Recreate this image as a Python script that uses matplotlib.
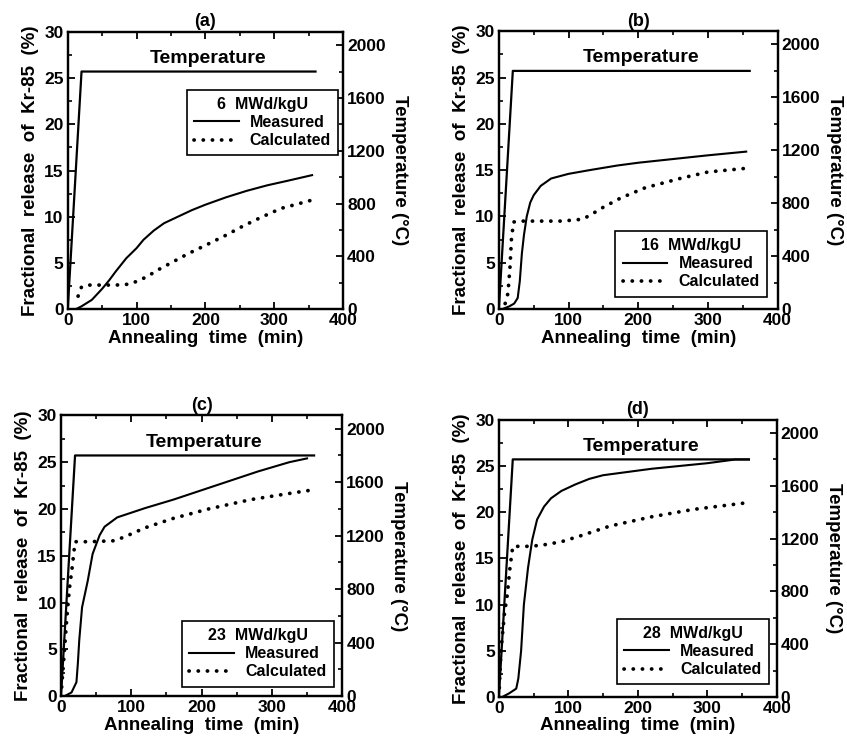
import matplotlib
matplotlib.use("Agg")
import matplotlib.pyplot as plt
from matplotlib.ticker import MultipleLocator

plt.rcParams['font.family'] = ['Liberation Sans', 'DejaVu Sans']
plt.rcParams['font.weight'] = 'bold'

# ---- data ----
temp_t = [0, 20, 360]
temp_v = [0, 1800, 1800]

panels = ['(a)', '(b)', '(c)', '(d)']
burnups = ['6  MWd/kgU', '16  MWd/kgU', '23  MWd/kgU', '28  MWd/kgU']

meas_t_a = [12, 20, 35, 50, 60, 70, 85, 100, 110, 125, 140, 160, 180, 200, 230, 260, 290, 320, 355]
meas_v_a = [0, 0.3, 1.0, 2.2, 3.1, 4.1, 5.5, 6.6, 7.5, 8.5, 9.3, 10.0, 10.7, 11.3, 12.1, 12.8, 13.4, 13.9, 14.5]
calc_t_a = [15, 20, 30, 50, 70, 90, 100, 115, 130, 150, 175, 200, 230, 255, 280, 310, 340, 355]
calc_v_a = [1.4, 2.4, 2.6, 2.6, 2.6, 2.7, 3.0, 3.5, 4.2, 5.0, 6.0, 6.9, 8.0, 9.0, 9.9, 10.9, 11.5, 11.8]

meas_t_b = [5, 15, 22, 27, 30, 33, 36, 40, 45, 50, 60, 75, 100, 130, 170, 200, 250, 300, 355]
meas_v_b = [0, 0.3, 0.6, 1.2, 3.0, 6.0, 8.0, 10.0, 11.5, 12.3, 13.3, 14.1, 14.6, 15.0, 15.5, 15.8, 16.2, 16.6, 17.0]
calc_t_b = [9, 13, 16, 18, 21, 30, 60, 90, 120, 130, 150, 175, 210, 260, 300, 355]
calc_v_b = [0.6, 1.7, 4.6, 7.5, 9.4, 9.5, 9.5, 9.5, 9.7, 10.1, 11.0, 12.0, 13.1, 14.1, 14.8, 15.2]

meas_t_c = [5, 15, 22, 24, 26, 30, 38, 45, 55, 62, 80, 100, 120, 160, 200, 240, 280, 325, 350]
meas_v_c = [0, 0.4, 1.5, 3.5, 6.0, 9.5, 12.3, 15.2, 17.2, 18.1, 19.1, 19.6, 20.1, 21.0, 22.0, 23.0, 24.0, 25.0, 25.4]
calc_t_c = [0, 3, 6, 9, 12, 16, 20, 40, 75, 90, 120, 160, 210, 270, 320, 355]
calc_v_c = [0, 3.0, 6.0, 9.0, 11.5, 13.8, 16.5, 16.5, 16.6, 17.0, 18.0, 19.0, 20.0, 21.0, 21.6, 22.0]

meas_t_d = [5, 15, 25, 28, 32, 36, 42, 48, 55, 65, 75, 90, 110, 130, 150, 180, 220, 260, 300, 340, 360]
meas_v_d = [0, 0.4, 0.9, 2.0, 5.0, 10.0, 14.0, 17.0, 19.2, 20.6, 21.5, 22.3, 23.0, 23.6, 24.0, 24.3, 24.7, 25.0, 25.3, 25.7, 25.7]
calc_t_d = [0, 3, 8, 12, 16, 20, 40, 60, 90, 120, 160, 220, 280, 355]
calc_v_d = [0, 5.0, 9.0, 11.0, 14.0, 16.3, 16.3, 16.4, 16.8, 17.5, 18.5, 19.5, 20.3, 21.0]

meas = [(meas_t_a, meas_v_a), (meas_t_b, meas_v_b), (meas_t_c, meas_v_c), (meas_t_d, meas_v_d)]
calc = [(calc_t_a, calc_v_a), (calc_t_b, calc_v_b), (calc_t_c, calc_v_c), (calc_t_d, calc_v_d)]

# ---- layout ----
positions = [
    [0.080, 0.584, 0.325, 0.373],
    [0.589, 0.584, 0.329, 0.374],
    [0.072, 0.063, 0.332, 0.378],
    [0.589, 0.062, 0.328, 0.373],
]
legend_anchor = [
    (0.455, 0.552, 0.505, 0.242),
    (0.45, 0.043, 0.48, 0.241),
    (0.45, 0.036, 0.50, 0.231),
    (0.446, 0.043, 0.504, 0.242),
]

fig = plt.figure(figsize=(8.47, 7.43), dpi=100)
FS = 12.5
for i in range(4):
    ax = fig.add_axes(positions[i])
    ax2 = ax.twinx()
    lm, = ax.plot(meas[i][0], meas[i][1], color='black', lw=1.5, label='Measured')
    lc, = ax.plot(calc[i][0], calc[i][1], color='black', lw=2.7,
                  linestyle=(0, (0.05, 2.4)), dash_capstyle='round', label='Calculated')
    ax2.plot(temp_t, temp_v, color='black', lw=1.6)
    ax.set_xlim(0, 400)
    ax.set_ylim(0, 30)
    ax2.set_ylim(0, 2100)
    ax.xaxis.set_major_locator(MultipleLocator(100))
    ax.xaxis.set_minor_locator(MultipleLocator(50))
    ax.yaxis.set_major_locator(MultipleLocator(5))
    ax.yaxis.set_minor_locator(MultipleLocator(2.5))
    ax2.yaxis.set_major_locator(MultipleLocator(400))
    ax2.yaxis.set_minor_locator(MultipleLocator(200))
    ax.tick_params(axis='x', which='both', direction='in', top=True, labelsize=FS, pad=3)
    ax.tick_params(axis='y', which='both', direction='in', right=False, labelsize=FS, pad=3)
    ax.tick_params(which='major', length=5, width=1.3)
    ax.tick_params(which='minor', length=3, width=1.2)
    ax2.tick_params(axis='y', which='major', direction='in', length=5, width=1.3, labelsize=FS, pad=3)
    ax2.tick_params(axis='y', which='minor', direction='in', length=3, width=1.2)
    for s in ax.spines.values():
        s.set_linewidth(1.6)
    for s in ax2.spines.values():
        s.set_linewidth(1.6)
    ax.set_xlabel('Annealing  time  (min)', fontsize=13.5, fontweight='bold', labelpad=1)
    ax.set_ylabel('Fractional  release  of  Kr-85  (%)', fontsize=13.5, fontweight='bold', labelpad=4)
    ax2.set_ylabel('Temperature (\u00b0C)', fontsize=13.5, fontweight='bold', rotation=270, labelpad=16)
    ax.set_title(panels[i], fontsize=13, fontweight='bold', pad=4)
    ax.text(0.51, 0.905, 'Temperature', transform=ax.transAxes, ha='center', va='center',
            fontsize=14, fontweight='bold')
    leg = ax.legend(handles=[lm, lc], title=burnups[i], loc='center',
                    bbox_to_anchor=legend_anchor[i], fancybox=False, frameon=True,
                    edgecolor='black', framealpha=1, prop={'size': 11.5, 'weight': 'bold'},
                    title_fontproperties={'size': 11.5, 'weight': 'bold'},
                    handlelength=2.8, handletextpad=0.7, borderpad=0.45, labelspacing=0.2,
                    borderaxespad=0)
    leg.get_frame().set_linewidth(1.2)
    ax.set_zorder(ax2.get_zorder() + 1)
    ax.patch.set_visible(False)

fig.savefig('out.png', dpi=100)
